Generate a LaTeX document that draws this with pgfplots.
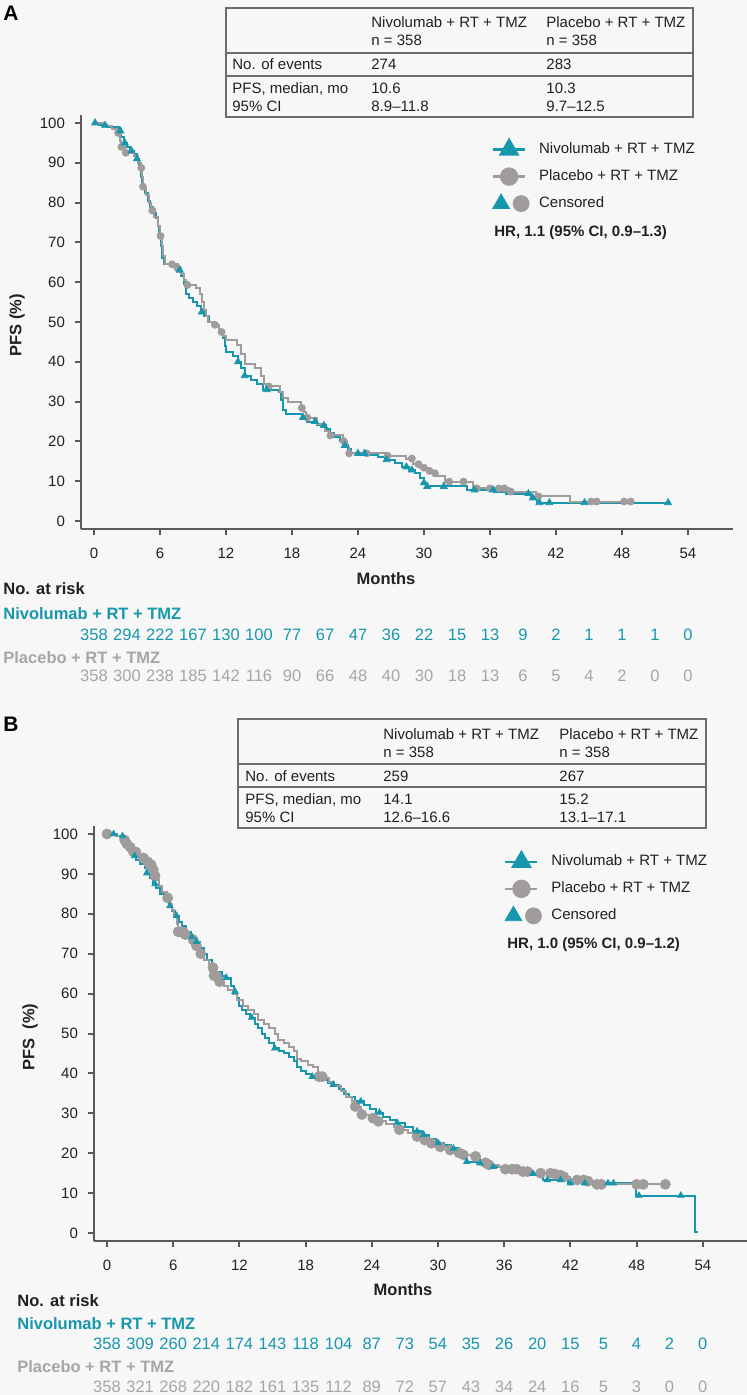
\documentclass[border=0pt]{standalone}
\usepackage{fontspec}
\setmainfont{Liberation Sans}
\usepackage{pgfplots}
\pgfplotsset{compat=1.18}

\definecolor{bg}{HTML}{F7F7F7}
\definecolor{nivo}{HTML}{1797AD}
\definecolor{plac}{HTML}{A09C9C}
\definecolor{plact}{HTML}{A8A5A5}
\definecolor{axc}{HTML}{5E5858}
\definecolor{tabc}{HTML}{6F6B6B}
\definecolor{txt}{HTML}{231F20}

\newcommand{\sm}{\fontsize{7.5pt}{9pt}\selectfont}
\newcommand{\risk}{\fontsize{8.25pt}{10pt}\selectfont}

\pgfplotsset{
  km/.style={
    scale only axis, anchor=south west,
    axis lines=left, axis line style={-, draw=axc, line width=1.2pt},
    ymin=-2, ymax=102,
    xtick={0,6,...,54}, ytick={0,10,...,100},
    tick align=outside, major tick length=3pt,
    tick style={draw=axc, line width=1pt},
    tick label style={font=\sm, text=txt},
    xticklabel style={yshift=-3pt}, yticklabel style={xshift=-1.5pt},
    /pgf/number format/assume math mode=true,
    clip=false, legend cell align=left,
    legend style={draw=none, fill=none, anchor=north west, inner sep=0pt,
      outer sep=0pt, row sep=0pt, column sep=5pt, font=\sm, text=txt,
      nodes={inner sep=0pt}},
  },
  kmline/.style={legend image code/.code={
      \path[draw=none, fill=none] (0pt,-6.75pt) rectangle (16pt,6.75pt);
      \draw[mark repeat=2,mark phase=2,##1] plot coordinates {(0pt,0pt) (8pt,0pt) (16pt,0pt)};}},
  kmcens/.style={legend image code/.code={
      \path[draw=none, fill=none] (0pt,-6.75pt) rectangle (16pt,6.75pt);
      \draw[nivo,fill=nivo] plot[only marks,mark=triangle*,mark size=4.8pt] coordinates {(4pt,0pt)};
      \draw[plac,fill=plac] plot[only marks,mark=*,mark size=4pt] coordinates {(14pt,0pt)};}},
  nivoline/.style={const plot, nivo, line width=1pt, forget plot},
  placline/.style={const plot, plac, line width=1pt, forget plot},
}

\newcommand{\T}[3]{\node[anchor=base west, inner sep=0pt, text=txt, font=\sm] at (#1,#2) {#3};}

\begin{document}
\begin{tikzpicture}[x=0.5pt,y=-0.5pt]
\path[use as bounding box, fill=bg] (0,0) rectangle (747,1395);

% ---------------- panel A ----------------
\node[anchor=base west, inner sep=0pt, font=\bfseries\fontsize{10.5pt}{12pt}\selectfont] at (3,21) {A};

\draw[tabc, line width=0.75pt] (226,8) rectangle (693,117);
\draw[tabc, line width=0.75pt] (226,53) -- (693,53) (226,76) -- (693,76);
\T{371}{28}{Nivolumab + RT + TMZ}
\T{371}{46}{n = 358}
\T{546}{28}{Placebo + RT + TMZ}
\T{546}{46}{n = 358}
\T{232}{70}{No. of events}
\T{371}{70}{274}
\T{546}{70}{283}
\T{232}{94}{PFS, median, mo}
\T{232}{112}{95\% CI}
\T{371}{94}{10.6}
\T{371}{112}{8.9--11.8}
\T{546}{94}{10.3}
\T{546}{112}{9.7--12.5}

\begin{axis}[km, at={(40.5pt,-264.5pt)}, width=326pt, height=207pt,
  xmin=-1.18, xmax=58.1,
  legend style={at={(axis cs:36.18,96.7)}}]
\addplot[nivoline] coordinates {(0,100) (0.5,99.4) (1.2,98.9) (2.3,98.0) (2.45,96.5) (2.7,95.0) (3.0,94.0) (3.3,93.0) (3.6,92.2) (3.9,91.0) (4.1,89.0) (4.3,86.5) (4.4,84.0) (4.6,82.5) (4.9,80.5) (5.1,79.0) (5.4,77.5) (5.6,76.0) (5.8,74.0) (5.95,71.5) (6.05,69.0) (6.2,66.0) (6.4,64.5) (7.0,64.0) (7.6,63.0) (7.9,61.5) (8.2,59.5) (8.4,57.0) (8.6,56.0) (9.0,55.0) (9.4,54.0) (9.7,52.5) (10.0,51.5) (10.5,50.0) (11.0,49.0) (11.4,47.5) (11.7,46.0) (11.9,44.0) (12.0,42.5) (12.6,41.5) (13.1,40.0) (13.4,38.5) (13.7,36.5) (14.3,35.5) (14.8,34.5) (15.4,33.0) (16.8,32.5) (17.0,30.5) (17.2,28.0) (17.5,27.0) (18.9,26.0) (19.4,25.0) (20.3,24.0) (21.1,23.0) (21.5,22.0) (21.8,21.0) (22.4,20.0) (22.8,19.0) (23.1,18.0) (23.4,17.0) (25.1,16.6) (25.8,16.0) (26.5,15.4) (27.4,14.6) (28.0,13.6) (28.6,12.8) (29.2,12.0) (29.6,10.7) (30.0,9.6) (30.2,8.7) (33.9,7.8) (36.4,7.4) (37.5,6.9) (39.7,5.8) (40.3,4.6) (52.4,4.6)};
\addplot[placline] coordinates {(0,100) (0.8,99.3) (1.6,98.6) (2.1,97.5) (2.35,95.5) (2.5,94.0) (2.8,92.5) (3.6,91.8) (4.0,90.0) (4.3,88.7) (4.4,86.5) (4.45,84.0) (4.7,82.0) (5.0,80.0) (5.2,78.0) (5.5,76.5) (5.8,74.0) (6.0,71.6) (6.15,69.0) (6.3,66.5) (6.5,64.5) (7.6,63.5) (7.9,62.0) (8.2,60.5) (8.4,59.3) (9.3,58.5) (9.6,57.0) (9.8,55.0) (10.0,53.0) (10.2,51.5) (10.4,50.0) (11.0,49.3) (11.4,47.5) (11.7,46.5) (12.0,45.5) (13.0,44.3) (13.4,42.0) (13.7,39.5) (14.6,38.4) (15.2,36.5) (15.5,34.5) (15.8,33.8) (16.9,32.5) (17.2,31.0) (17.6,30.0) (18.8,28.4) (19.1,27.5) (19.3,26.0) (20.3,24.5) (21.0,22.5) (21.4,21.5) (22.6,20.1) (23.0,18.5) (23.2,17.0) (26.6,16.4) (28.4,15.7) (29.0,14.3) (29.6,13.4) (30.4,12.6) (30.8,12.0) (31.2,11.2) (31.9,9.9) (34.5,8.2) (37.7,7.4) (40.2,6.2) (43.3,4.9) (48.8,4.9)};
\addplot[only marks, mark=*, mark size=1.75pt, plac, forget plot] coordinates {(2.2,97.5) (2.5,94.0) (2.9,92.5) (4.3,88.7) (4.45,84.0) (5.3,78.0) (6.05,71.6) (7.1,64.5) (7.6,63.5) (8.5,59.3) (11.0,49.3) (11.6,47.5) (15.9,33.8) (18.9,28.4) (19.4,26.0) (21.5,21.5) (22.7,20.1) (23.2,17.0) (24.8,17.0) (26.7,16.4) (28.9,15.7) (29.5,14.3) (30.0,13.4) (30.5,12.6) (31.0,12.0) (32.3,9.9) (33.6,9.9) (34.8,8.2) (36.0,8.2) (36.8,8.2) (37.3,8.2) (37.9,7.4) (40.4,6.2) (45.2,4.9) (45.7,4.9) (48.2,4.9) (48.8,4.9)};
\addplot[only marks, mark=triangle*, mark size=2pt, nivo, forget plot] coordinates {(0.1,100) (1.0,99.4) (2.4,98.0) (2.8,95.0) (3.4,93.0) (3.9,91.0) (7.8,63.0) (9.8,52.5) (13.1,40.0) (13.7,36.5) (15.7,33.0) (19.0,26.0) (20.1,25.0) (20.9,24.0) (22.8,19.0) (24.0,17.0) (24.6,17.0) (26.6,15.4) (28.4,13.6) (28.9,12.8) (30.0,9.6) (30.3,8.7) (31.8,8.7) (34.6,7.8) (36.3,7.8) (39.5,6.9) (39.9,5.8) (40.5,4.6) (41.4,4.6) (44.6,4.6) (52.2,4.6)};
\addlegendimage{kmline, nivo, line width=1.2pt, mark=triangle*, mark size=4.8pt}
\addlegendentry{Nivolumab + RT + TMZ}
\addlegendimage{kmline, plac, line width=1.2pt, mark=*, mark size=4pt}
\addlegendentry{Placebo + RT + TMZ}
\addlegendimage{kmcens}
\addlegendentry{Censored}
\end{axis}

\node[anchor=base west, inner sep=0pt, font=\sm\bfseries, text=txt] at (494,237) {HR, 1.1 (95\% CI, 0.9--1.3)};
\node[rotate=90, inner sep=0pt, font=\risk\bfseries, text=txt] at (17,325) {PFS (\%)};
\node[anchor=base, inner sep=0pt, font=\risk\bfseries, text=txt] at (386,584) {Months};
\node[anchor=base west, inner sep=0pt, font=\risk\bfseries, text=txt] at (3,594) {No. at risk};
\node[anchor=base west, inner sep=0pt, font=\risk\bfseries, text=nivo] at (3,619) {Nivolumab + RT + TMZ};
\node[anchor=base west, inner sep=0pt, font=\risk\bfseries, text=plact] at (3,663) {Placebo + RT + TMZ};
\foreach \v [count=\i from 0] in {358,294,222,167,130,100,77,67,47,36,22,15,13,9,2,1,1,1,0}
  \node[anchor=base, inner sep=0pt, font=\risk, text=nivo] at ({94+33*\i},640) {\v};
\foreach \v [count=\i from 0] in {358,300,238,185,142,116,90,66,48,40,30,18,13,6,5,4,2,0,0}
  \node[anchor=base, inner sep=0pt, font=\risk, text=plact] at ({94+33*\i},681) {\v};

% ---------------- panel B ----------------
\node[anchor=base west, inner sep=0pt, font=\bfseries\fontsize{10.5pt}{12pt}\selectfont] at (3,731) {B};

\draw[tabc, line width=0.75pt] (238,719) rectangle (706,828);
\draw[tabc, line width=0.75pt] (238,764) -- (706,764) (238,787) -- (706,787);
\T{383}{739}{Nivolumab + RT + TMZ}
\T{383}{757}{n = 358}
\T{559}{739}{Placebo + RT + TMZ}
\T{559}{757}{n = 358}
\T{245}{781}{No. of events}
\T{383}{781}{259}
\T{559}{781}{267}
\T{245}{804}{PFS, median, mo}
\T{245}{822}{95\% CI}
\T{383}{804}{14.1}
\T{383}{822}{12.6--16.6}
\T{559}{804}{15.2}
\T{559}{822}{13.1--17.1}

\begin{axis}[km, at={(47pt,-620.5pt)}, width=326.5pt, height=207.5pt,
  xmin=-1.18, xmax=58.0,
  legend style={at={(axis cs:36.0,96.4)}}]
\addplot[nivoline] coordinates {(0,100) (0.9,99.5) (1.5,98.7) (1.9,97.5) (2.2,96.0) (2.4,94.5) (2.6,93.5) (3.0,92.5) (3.4,91.5) (3.6,90.2) (3.9,89.0) (4.2,87.5) (4.4,86.5) (4.8,85.0) (5.2,83.5) (5.6,82.0) (5.9,80.8) (6.2,79.5) (6.5,78.0) (6.8,77.0) (7.2,75.5) (7.6,74.2) (8.0,73.0) (8.4,71.5) (8.8,70.0) (9.1,68.5) (9.5,67.0) (9.9,65.5) (10.4,64.5) (10.8,64.0) (11.2,62.0) (11.5,60.5) (11.8,59.0) (12.0,57.0) (12.2,56.0) (12.6,55.0) (13.0,54.0) (13.4,52.5) (13.7,51.5) (14.0,50.0) (14.3,48.8) (14.7,47.5) (15.1,46.3) (15.6,45.6) (16.0,45.0) (16.5,44.0) (16.9,43.0) (17.2,41.5) (17.6,40.5) (18.0,39.8) (18.5,39.2) (19.4,38.3) (20.0,37.6) (20.4,37.2) (21.0,36.0) (21.5,34.8) (21.9,34.0) (22.5,33.0) (23.3,32.0) (23.8,31.0) (24.4,30.2) (25.0,29.2) (25.6,28.4) (26.2,27.6) (27.0,26.5) (27.7,25.5) (28.5,24.6) (29.2,23.6) (29.8,22.6) (30.5,22.0) (31.2,21.2) (31.9,20.0) (32.2,19.0) (32.5,17.9) (33.5,17.5) (34.5,16.6) (36.0,15.8) (37.5,15.4) (38.5,14.9) (39.5,13.3) (41.8,12.5) (47.9,9.4) (53.3,0.3) (53.6,0.3)};
\addplot[placline] coordinates {(0,100) (0.8,99.5) (1.4,98.5) (1.8,97.5) (2.1,96.7) (2.4,95.5) (2.8,94.5) (3.2,94.0) (3.6,93.0) (3.9,92.3) (4.1,91.0) (4.3,89.5) (4.4,88.5) (4.7,87.0) (5.0,85.5) (5.4,84.0) (5.7,82.5) (5.9,81.0) (6.1,79.5) (6.3,77.5) (6.4,75.5) (7.1,74.8) (7.6,73.5) (8.0,72.0) (8.4,70.0) (8.8,68.5) (9.2,67.5) (9.5,66.5) (9.7,64.5) (10.1,63.0) (10.6,62.0) (11.0,61.0) (11.4,60.0) (11.8,58.5) (12.3,57.0) (12.8,56.0) (13.3,55.0) (13.7,53.5) (14.2,52.5) (14.7,51.3) (15.2,50.0) (15.5,48.4) (16.0,47.5) (16.5,46.5) (16.9,45.5) (17.2,43.5) (17.6,43.0) (18.2,42.0) (18.7,41.5) (19.1,39.2) (19.6,38.8) (20.1,37.8) (20.6,36.8) (21.2,35.5) (21.7,34.2) (22.2,33.0) (22.5,31.7) (23.0,29.7) (24.0,28.8) (24.5,28.0) (25.3,27.2) (26.0,26.5) (26.5,25.9) (27.3,25.0) (28.0,24.2) (28.7,23.3) (29.3,22.5) (30.1,21.6) (31.0,20.8) (31.8,20.1) (32.2,19.6) (33.0,19.2) (33.8,18.2) (34.2,17.6) (34.5,17.1) (35.5,16.5) (36.5,16.0) (37.5,15.4) (38.5,15.0) (40.5,14.8) (41.0,14.5) (41.3,14.1) (42.0,13.6) (42.5,13.3) (43.5,13.0) (44.2,12.2) (50.6,12.2)};
\addplot[only marks, mark=*, mark size=2.5pt, plac, forget plot] coordinates {(0,100) (1.6,98.5) (1.8,97.5) (2.1,96.7) (2.4,95.5) (2.6,95.5) (3.3,94.0) (3.7,93.0) (3.9,92.3) (4.0,92.3) (4.2,91.0) (4.35,89.5) (5.5,84.0) (6.45,75.5) (6.7,75.5) (6.9,75.5) (7.1,74.8) (7.8,73.5) (8.1,72.0) (8.5,70.0) (9.6,66.5) (9.7,64.5) (9.9,64.5) (10.2,63.0) (19.2,39.2) (19.5,39.2) (22.5,31.7) (23.1,29.7) (24.1,28.8) (24.6,28.0) (26.5,25.9) (28.1,24.2) (28.8,23.3) (29.4,22.5) (30.2,21.6) (31.1,20.8) (31.9,20.1) (32.3,19.6) (33.4,19.2) (34.3,17.6) (34.6,17.1) (36.1,16.0) (36.7,16.0) (37.1,16.0) (37.7,15.4) (38.1,15.4) (39.3,15.0) (40.2,15.0) (40.6,14.8) (41.1,14.5) (41.4,14.1) (42.6,13.3) (43.2,13.3) (43.6,13.0) (44.4,12.2) (44.8,12.2) (48.0,12.2) (48.6,12.2) (50.6,12.2)};
\addplot[only marks, mark=triangle*, mark size=1.8pt, nivo, forget plot] coordinates {(0.6,100) (1.4,99.5) (2.5,94.5) (3.6,90.2) (4.35,87.5) (5.7,82.0) (6.3,79.5) (7.7,74.2) (8.1,73.0) (10.8,64.0) (11.6,60.5) (13.1,54.0) (15.2,46.3) (18.6,39.2) (20.5,37.2) (23.0,33.0) (24.7,30.2) (26.3,27.6) (28.1,25.5) (28.7,24.6) (30.0,22.6) (31.4,21.2) (32.6,17.9) (33.8,17.5) (35.0,16.6) (38.6,14.9) (39.9,13.3) (41.1,13.3) (42.0,12.5) (43.3,12.5) (45.4,12.5) (45.9,12.5) (48.2,9.4) (52.0,9.4)};
\addlegendimage{kmline, nivo, line width=1.2pt, mark=triangle*, mark size=4.8pt}
\addlegendentry{Nivolumab + RT + TMZ}
\addlegendimage{kmline, plac, line width=1.2pt, mark=*, mark size=4pt}
\addlegendentry{Placebo + RT + TMZ}
\addlegendimage{kmcens}
\addlegendentry{Censored}
\end{axis}

\node[anchor=base west, inner sep=0pt, font=\sm\bfseries, text=txt] at (507,948) {HR, 1.0 (95\% CI, 0.9--1.2)};
\node[rotate=90, inner sep=0pt, font=\risk\bfseries, text=txt] at (30,1037) {PFS\ \ (\%)};
\node[anchor=base, inner sep=0pt, font=\risk\bfseries, text=txt] at (403,1295) {Months};
\node[anchor=base west, inner sep=0pt, font=\risk\bfseries, text=txt] at (17,1306) {No. at risk};
\node[anchor=base west, inner sep=0pt, font=\risk\bfseries, text=nivo] at (17,1329) {Nivolumab + RT + TMZ};
\node[anchor=base west, inner sep=0pt, font=\risk\bfseries, text=plact] at (17,1372) {Placebo + RT + TMZ};
\foreach \v [count=\i from 0] in {358,309,260,214,174,143,118,104,87,73,54,35,26,20,15,5,4,2,0}
  \node[anchor=base, inner sep=0pt, font=\risk, text=nivo] at ({107+33.09*\i},1349) {\v};
\foreach \v [count=\i from 0] in {358,321,268,220,182,161,135,112,89,72,57,43,34,24,16,5,3,0,0}
  \node[anchor=base, inner sep=0pt, font=\risk, text=plact] at ({107+33.09*\i},1392) {\v};
\end{tikzpicture}
\end{document}
